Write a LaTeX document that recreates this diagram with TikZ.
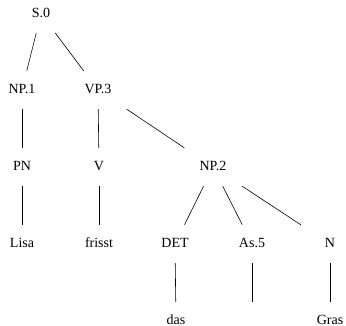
\documentclass[tikz,border=0pt]{standalone}
\usepackage{fontspec}
\setmainfont{Liberation Serif}
\usetikzlibrary{calc}
\tikzset{
  lbl/.style={inner sep=0pt, text height=0.66em, text depth=0pt, anchor=center, font=\fontsize{14}{16}\selectfont},
  edge/.style={line width=0.6pt, black}
}
\newcommand{\tedge}[2]{\draw[edge] ($(#1)!0.25!(#2)$) -- ($(#1)!0.75!(#2)$);}
\begin{document}
\begin{tikzpicture}[x=1pt,y=-1pt]
\useasboundingbox (0,0) rectangle (346,326);
\node[lbl] (s0) at (41,14) {S.0};
\node[lbl] (np1) at (22,90) {NP.1};
\node[lbl] (vp3) at (98,90) {VP.3};
\node[lbl] (pn) at (22,167) {PN};
\node[lbl] (v) at (99,167) {V};
\node[lbl] (np2) at (213,167) {NP.2};
\node[lbl] (lisa) at (22,244) {Lisa};
\node[lbl] (frisst) at (99,244) {frisst};
\node[lbl] (det) at (175,244) {DET};
\node[lbl] (as5) at (252,244) {As.5};
\node[lbl] (n) at (330,244) {N};
\node[lbl] (das) at (176,321) {das};
\coordinate (empty) at (252,321);
\node[lbl] (gras) at (330,321) {Gras};
\tedge{s0}{np1}
\tedge{s0}{vp3}
\tedge{np1}{pn}
\tedge{vp3}{v}
\tedge{vp3}{np2}
\tedge{pn}{lisa}
\tedge{v}{frisst}
\tedge{np2}{det}
\tedge{np2}{as5}
\tedge{np2}{n}
\tedge{det}{das}
\tedge{as5}{empty}
\tedge{n}{gras}
\end{tikzpicture}
\end{document}
